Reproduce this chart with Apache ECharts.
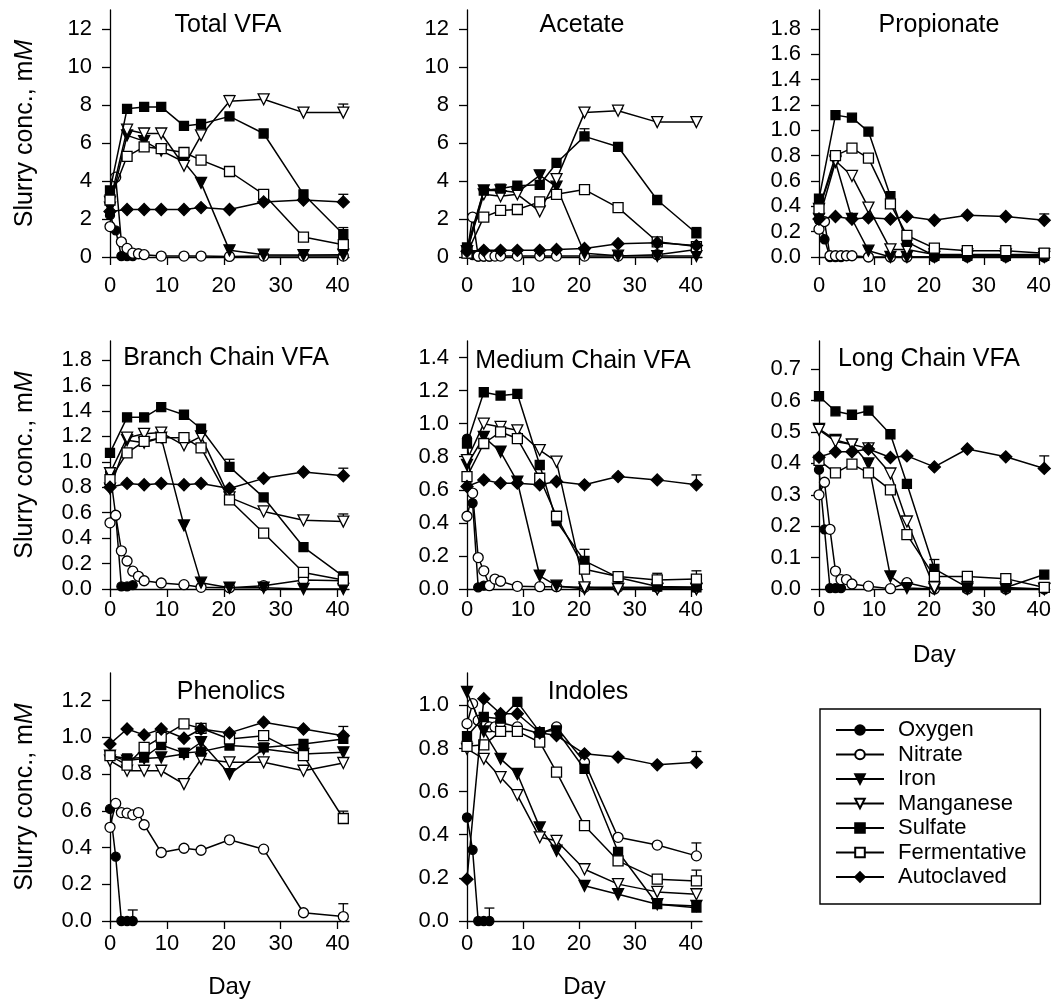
<!DOCTYPE html>
<html>
<head>
<meta charset="utf-8">
<script src="https://cdn.jsdelivr.net/npm/echarts@6/dist/echarts.min.js"></script>
<style>
html,body{margin:0;padding:0;background:#fff;}
#chart{width:1054px;height:1004px;}
</style>
</head>
<body>
<div id="chart"></div>
<script>
// ---------------- DATA ----------------
const seriesNames = ['Oxygen','Nitrate','Iron','Manganese','Sulfate','Fermentative','Autoclaved'];
const daysOxygen  = [0,1,2,3,4];
const daysNitrate = [0,1,2,3,4,5,6,9,13,16,21,27,34,41];
const daysMain    = [0,3,6,9,13,16,21,27,34,41];
const xTicks = [0,10,20,30,40];

const ticksVFA = [0,2,4,6,8,10,12];
const ticks18  = [0,0.2,0.4,0.6,0.8,1.0,1.2,1.4,1.6,1.8];
const ticks14  = [0,0.2,0.4,0.6,0.8,1.0,1.2,1.4];
const ticks07  = [0,0.1,0.2,0.3,0.4,0.5,0.6,0.7];
const ticks12  = [0,0.2,0.4,0.6,0.8,1.0,1.2];
const ticks10  = [0,0.2,0.4,0.6,0.8,1.0];

// each panel: [oxygen, nitrate, iron, manganese, sulfate, fermentative, autoclaved]
const totalVFA = [
  [2.2, 1.4, 0.05, 0.05, 0.05],
  [1.6, 4.2, 0.8, 0.45, 0.2, 0.17, 0.12, 0.05, 0.05, 0.05, 0.03, 0.05, 0.05, 0.05],
  [2.6, 6.4, 6.1, 5.6, 5.0, 3.9, 0.35, 0.12, 0.1, 0.12],
  [2.9, 6.7, 6.5, 6.5, 4.8, 6.4, 8.2, 8.3, 7.6, 7.6],
  [3.5, 7.8, 7.9, 7.9, 6.9, 7.0, 7.4, 6.5, 3.3, 1.2],
  [3.0, 5.3, 5.8, 5.7, 5.5, 5.1, 4.5, 3.3, 1.05, 0.65],
  [2.4, 2.5, 2.5, 2.5, 2.5, 2.6, 2.5, 2.9, 3.0, 2.9]
];
const acetate = [
  [0.25, 0.1, 0.02, 0.02, 0.02],
  [0.2, 2.1, 0.05, 0.05, 0.05, 0.05, 0.05, 0.05, 0.05, 0.05, 0.05, 0.05, 0.12, 0.4],
  [0.3, 3.5, 3.5, 3.4, 4.3, 3.7, 0.2, 0.07, 0.05, 0.05],
  [0.3, 3.3, 3.2, 3.3, 2.4, 4.1, 7.6, 7.7, 7.1, 7.1],
  [0.5, 3.5, 3.6, 3.75, 3.8, 4.95, 6.35, 5.8, 3.0, 1.25],
  [0.2, 2.1, 2.45, 2.5, 2.9, 3.3, 3.55, 2.6, 0.8, 0.55],
  [0.3, 0.35, 0.35, 0.35, 0.35, 0.4, 0.45, 0.7, 0.75, 0.6]
];
const propionate = [
  [0.29, 0.14, 0.0, 0.0, 0.0],
  [0.22, 0.28, 0.01, 0.01, 0.01, 0.01, 0.01, 0.0, 0.0, 0.0, 0.0, 0.0, 0.0, 0.0],
  [0.3, 0.75, 0.3, 0.05, 0.0, 0.0, 0.0, 0.0, 0.0, 0.0],
  [0.38, 0.76, 0.64, 0.39, 0.06, 0.06, 0.02, 0.02, 0.02, 0.02],
  [0.46, 1.12, 1.1, 0.99, 0.48, 0.12, 0.01, 0.01, 0.01, 0.01],
  [0.38, 0.8, 0.86, 0.78, 0.42, 0.17, 0.07, 0.05, 0.05, 0.03],
  [0.3, 0.32, 0.3, 0.31, 0.3, 0.32, 0.29, 0.33, 0.32, 0.29]
];
const branchChain = [
  [0.92, 0.58, 0.02, 0.02, 0.03],
  [0.52, 0.58, 0.3, 0.22, 0.14, 0.1, 0.065, 0.047, 0.034, 0.013, 0.01, 0.026, 0.07, 0.065],
  [0.79, 1.17, 1.15, 1.19, 0.5, 0.05, 0.01, 0.01, 0.0, 0.0],
  [0.91, 1.19, 1.22, 1.23, 1.13, 1.2, 0.72, 0.61, 0.54, 0.53],
  [1.07, 1.35, 1.35, 1.43, 1.37, 1.26, 0.96, 0.72, 0.33, 0.1],
  [0.86, 1.07, 1.16, 1.19, 1.19, 1.11, 0.7, 0.44, 0.13, 0.07],
  [0.8, 0.83, 0.82, 0.83, 0.82, 0.83, 0.79, 0.87, 0.92, 0.89]
];
const mediumChain = [
  [0.91, 0.52, 0.01, 0.02, 0.02],
  [0.44, 0.58, 0.19, 0.11, 0.02, 0.06, 0.047, 0.016, 0.014, 0.014, 0.01, 0.01, 0.01, 0.01],
  [0.75, 0.92, 0.83, 0.65, 0.08, 0.02, 0.0, 0.0, 0.0, 0.0],
  [0.78, 1.0, 0.98, 0.96, 0.84, 0.77, 0.01, 0.0, 0.0, 0.0],
  [0.88, 1.19, 1.17, 1.18, 0.75, 0.41, 0.17, 0.07, 0.015, 0.01],
  [0.68, 0.88, 0.95, 0.91, 0.67, 0.44, 0.12, 0.075, 0.055, 0.06],
  [0.62, 0.66, 0.64, 0.64, 0.63, 0.65, 0.63, 0.68, 0.66, 0.63]
];
const longChain = [
  [0.38, 0.19, 0.003, 0.003, 0.003],
  [0.3, 0.34, 0.19, 0.057, 0.03, 0.03, 0.016, 0.009, 0.001, 0.02, 0.0, 0.0, 0.0, 0.0],
  [0.51, 0.475, 0.46, 0.4, 0.04, 0.003, 0.0, 0.0, 0.0, 0.0],
  [0.507, 0.47, 0.46, 0.448, 0.368, 0.215, 0.005, 0.005, 0.005, 0.0],
  [0.614, 0.566, 0.555, 0.568, 0.493, 0.335, 0.064, 0.005, 0.005, 0.046],
  [0.41, 0.37, 0.398, 0.37, 0.316, 0.173, 0.04, 0.04, 0.033, 0.005],
  [0.42, 0.437, 0.437, 0.446, 0.419, 0.424, 0.389, 0.446, 0.421, 0.384]
];
const phenolics = [
  [0.61, 0.35, 0.0, 0.0, 0.0],
  [0.51, 0.64, 0.59, 0.587, 0.578, 0.59, 0.524, 0.373, 0.396, 0.385, 0.442, 0.391, 0.045, 0.024],
  [0.9, 0.873, 0.885, 0.89, 0.909, 0.973, 0.8, 0.936, 0.909, 0.918],
  [0.873, 0.818, 0.818, 0.818, 0.745, 0.882, 0.864, 0.864, 0.818, 0.86],
  [0.9, 0.885, 0.89, 0.958, 0.915, 0.922, 0.955, 0.945, 0.964, 0.991],
  [0.9, 0.849, 0.945, 1.0, 1.073, 1.049, 0.991, 1.009, 0.9, 0.558],
  [0.964, 1.045, 1.013, 1.045, 0.995, 1.045, 1.024, 1.082, 1.045, 1.009]
];
const indoles = [
  [0.48, 0.33, 0.0, 0.0, 0.0],
  [0.915, 1.008, 0.93, 0.92, 0.9, 0.9, 0.92, 0.9, 0.868, 0.9, 0.736, 0.388, 0.352, 0.302],
  [1.062, 0.879, 0.752, 0.682, 0.434, 0.326, 0.163, 0.124, 0.078, 0.07],
  [0.798, 0.752, 0.667, 0.584, 0.388, 0.372, 0.24, 0.171, 0.135, 0.124],
  [0.857, 0.946, 0.938, 1.016, 0.876, 0.884, 0.705, 0.321, 0.078, 0.062],
  [0.81, 0.817, 0.879, 0.879, 0.829, 0.69, 0.442, 0.279, 0.194, 0.186],
  [0.194, 1.031, 0.961, 0.961, 0.873, 0.86, 0.775, 0.76, 0.724, 0.736]
];

// error bars: [series index, day, +error]
const errTotal   = [[3,41,0.45],[4,41,0.35],[6,41,0.4],[3,21,0.3]];
const errAcetate = [[3,41,0.25],[4,21,0.4],[4,41,0.3],[3,27,0.1]];
const errProp    = [[6,41,0.05]];
const errBranch  = [[6,41,0.06],[3,41,0.06],[4,21,0.06]];
const errMedium  = [[6,41,0.06],[5,41,0.05],[5,34,0.04],[4,21,0.07]];
const errLong    = [[6,41,0.04],[4,21,0.03]];
const errPhen    = [[0,4,0.06],[1,41,0.07],[5,41,0.04],[6,41,0.05]];
const errInd     = [[0,4,0.06],[1,41,0.06],[5,41,0.05],[6,41,0.05]];

// ---------------- LAYOUT / STYLE ----------------
const FONT = '"Liberation Sans", Arial, Helvetica, sans-serif';
const colLeft = [110, 467, 819];
const colWidth = [239, 235, 233];
const rowTop = [10, 341, 673];
const rowHeight = [247, 248, 248];
const rowLabelMargin = [18, 10, 12];

const panels = [
  {title:'Total VFA', data:totalVFA, err:errTotal, ymax:13, yticks:ticksVFA, dec:0, col:0, row:0, tx:228, ty:25},
  {title:'Acetate', data:acetate, err:errAcetate, ymax:13, yticks:ticksVFA, dec:0, col:1, row:0, tx:582, ty:25},
  {title:'Propionate', data:propionate, err:errProp, ymax:1.95, yticks:ticks18, dec:1, col:2, row:0, tx:939, ty:25},
  {title:'Branch Chain VFA', data:branchChain, err:errBranch, ymax:1.95, yticks:ticks18, dec:1, col:0, row:1, tx:226, ty:358},
  {title:'Medium Chain VFA', data:mediumChain, err:errMedium, ymax:1.5, yticks:ticks14, dec:1, col:1, row:1, tx:583, ty:361},
  {title:'Long Chain VFA', data:longChain, err:errLong, ymax:0.79, yticks:ticks07, dec:1, col:2, row:1, tx:929, ty:359, day:true},
  {title:'Phenolics', data:phenolics, err:errPhen, ymax:1.35, yticks:ticks12, dec:1, col:0, row:2, tx:231, ty:692, day:true},
  {title:'Indoles', data:indoles, err:errInd, ymax:1.15, yticks:ticks10, dec:1, col:1, row:2, tx:588, ty:692, day:true}
];

const seriesDays = [daysOxygen, daysNitrate, daysMain, daysMain, daysMain, daysMain, daysMain];
const markerStyle = [
  {symbol:'circle', size:9, fill:'#000', rot:0},
  {symbol:'circle', size:10, fill:'#fff', rot:0},
  {symbol:'triangle', size:11, fill:'#000', rot:180},
  {symbol:'triangle', size:11, fill:'#fff', rot:180},
  {symbol:'rect', size:9, fill:'#000', rot:0},
  {symbol:'rect', size:10, fill:'#fff', rot:0},
  {symbol:'diamond', size:12, fill:'#000', rot:0}
];

const grids = [], xAxes = [], yAxes = [], series = [], titles = [];

function renderErr(params, api) {
  const x = api.value(0), y = api.value(1), y2 = api.value(2);
  const p1 = api.coord([x, y]);
  const p2 = api.coord([x, y2]);
  return {type:'group', children:[
    {type:'line', shape:{x1:p1[0], y1:p1[1], x2:p2[0], y2:p2[1]}, style:{stroke:'#000', lineWidth:1.3}},
    {type:'line', shape:{x1:p2[0]-5, y1:p2[1], x2:p2[0]+5, y2:p2[1]}, style:{stroke:'#000', lineWidth:1.3}}
  ]};
}

panels.forEach((p, i) => {
  grids.push({left:colLeft[p.col], top:rowTop[p.row], width:colWidth[p.col], height:rowHeight[p.row], containLabel:false});
  xAxes.push({
    type:'value', gridIndex:i, min:0, max:42,
    name: p.day ? 'Day' : '',
    nameLocation:'middle', nameGap:54,
    nameTextStyle:{color:'#000', fontSize:24, fontFamily:FONT},
    axisLine:{show:true, lineStyle:{color:'#000', width:1.3}},
    axisTick:{show:true, length:8, inside:false, customValues:xTicks, lineStyle:{color:'#000', width:1.3}},
    axisLabel:{show:true, customValues:xTicks, color:'#000', fontSize:22, fontFamily:FONT, margin:rowLabelMargin[p.row]},
    splitLine:{show:false}
  });
  yAxes.push({
    type:'value', gridIndex:i, min:0, max:p.ymax,
    name: p.col === 0 ? '{a|Slurry conc., m}{b|M}' : '',
    nameLocation:'middle', nameGap:72,
    nameTextStyle:{color:'#000', fontSize:25, fontFamily:FONT,
      rich:{a:{fontSize:25, fontFamily:FONT, color:'#000'}, b:{fontSize:25, fontFamily:FONT, fontStyle:'italic', color:'#000'}}},
    axisLine:{show:true, onZero:false, lineStyle:{color:'#000', width:1.3}},
    axisTick:{show:true, length:8, inside:false, customValues:p.yticks, lineStyle:{color:'#000', width:1.3}},
    axisLabel:{show:true, customValues:p.yticks, color:'#000', fontSize:22, fontFamily:FONT, margin:18,
      formatter: v => Number(v).toFixed(p.dec)},
    splitLine:{show:false}
  });
  titles.push({
    text:p.title, left:p.tx, top:p.ty - 14, textAlign:'center', padding:0,
    textStyle:{color:'#000', fontSize:25, fontWeight:'normal', fontFamily:FONT, lineHeight:28}
  });
  // error bars (below markers)
  series.push({
    type:'custom', xAxisIndex:i, yAxisIndex:i, z:1, silent:true,
    renderItem:renderErr,
    encode:{x:0, y:[1,2]},
    data:p.err.map(e => {
      const s = e[0];
      const idx = seriesDays[s].indexOf(e[1]);
      const v = p.data[s][idx];
      return [e[1], v, v + e[2]];
    })
  });
  p.data.forEach((vals, s) => {
    const m = markerStyle[s];
    series.push({
      type:'line', name:seriesNames[s], xAxisIndex:i, yAxisIndex:i, z:2 + s,
      data: vals.map((v, k) => [seriesDays[s][k], v]),
      symbol:m.symbol, symbolSize:m.size, symbolRotate:m.rot, showAllSymbol:true,
      lineStyle:{color:'#000', width:1.5},
      itemStyle:{color:m.fill, borderColor:'#000', borderWidth:1.3},
      emphasis:{disabled:true}
    });
  });
});

const chart = echarts.init(document.getElementById('chart'), null, {renderer:'canvas'});
chart.setOption({
  animation:false,
  backgroundColor:'#fff',
  title:titles,
  grid:grids,
  xAxis:xAxes,
  yAxis:yAxes,
  legend:{
    data:seriesNames, orient:'vertical', left:820, top:709,
    itemWidth:48, itemHeight:12, itemGap:2.5,
    borderColor:'#000', borderWidth:1.4, padding:[10, 14, 16, 15],
    textStyle:{color:'#000', fontSize:22, fontFamily:FONT, lineHeight:22, padding:[0,0,0,9]}
  },
  series:series
});
</script>
</body>
</html>
